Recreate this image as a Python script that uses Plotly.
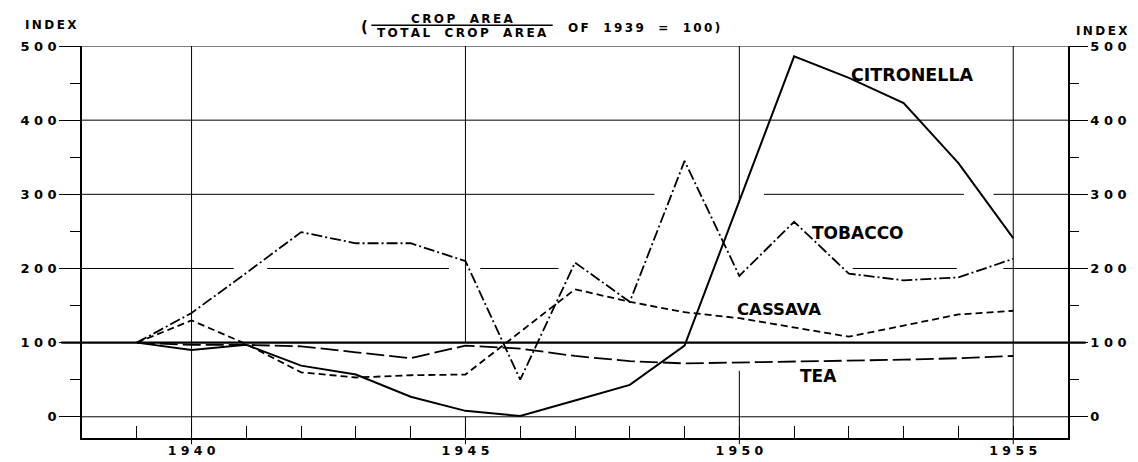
import plotly.graph_objects as go

years = list(range(1939, 1956))
citronella = [100, 90, 97, 69, 57, 27, 8, 1, 22, 43, 96, 290, 486, 457, 423, 342, 241]
tobacco = [100, 140, 194, 249, 234, 234, 210, 50, 208, 155, 345, 190, 263, 193, 184, 188, 213]
cassava = [100, 130, 98, 60, 53, 56, 57, 115, 172, 155, 141, 133, 121, 108, 123, 138, 143]
tea = [100, 97, 97, 95, 87, 79, 96, 92, 82, 75, 72, 73, 75, 76, 77, 79, 82]

x_labels = [1940, 1945, 1950, 1955]
y_ticks = [0, 100, 200, 300, 400, 500]

X_RANGE = [1938, 1956]
Y_RANGE = [-28.6, 500]

# hand-drawn (broken) grid lines of the original drawing
H_GRID = {
    0: [(1938, 1956)],
    200: [(1938, 1940.77), (1941.38, 1944.7), (1945.27, 1946.7), (1952.07, 1953.97), (1954.82, 1956)],
    300: [(1938, 1948.45), (1950.45, 1954.1), (1954.64, 1956)],
    400: [(1938, 1956)],
    500: [(1938, 1956)],
}
V_GRID = {
    1940: [(-28.6, 500)],
    1945: [(-28.6, 0), (100, 500)],
    1950: [(-28.6, 62), (288, 500)],
    1955: [(-28.6, 500)],
}

FONT = "DejaVu Sans"
TS = "\u2009"  # thin space


def spaced(s, sep=" "):
    return sep.join(list(s))


def letter(s):
    words = s.split(" ")
    return "\u2003\u2009".join(TS.join(list(w)) for w in words)


fig = go.Figure()

for val, segs in H_GRID.items():
    for a, b in segs:
        fig.add_shape(type="line", xref="x", yref="y", x0=a, x1=b, y0=val, y1=val,
                      line=dict(color="black", width=1), layer="below")
for yr, segs in V_GRID.items():
    for a, b in segs:
        fig.add_shape(type="line", xref="x", yref="y", x0=yr, x1=yr, y0=a, y1=b,
                      line=dict(color="black", width=1), layer="below")
    # short extension below the base line
    fig.add_shape(type="line", xref="x", yref="paper", x0=yr, x1=yr, y0=-0.016, y1=0,
                  line=dict(color="black", width=1), layer="below")

common = dict(mode="lines", hoverinfo="skip", showlegend=False)
fig.add_trace(go.Scatter(x=years, y=citronella, line=dict(color="black", width=2), **common))
fig.add_trace(go.Scatter(x=years, y=tobacco, line=dict(color="black", width=1.8, dash="11px,3px,2px,3px"), **common))
fig.add_trace(go.Scatter(x=years, y=cassava, line=dict(color="black", width=1.8, dash="7px,4px"), **common))
fig.add_trace(go.Scatter(x=years, y=tea, line=dict(color="black", width=1.8, dash="18px,5px"), **common))
# invisible trace to anchor right axis
fig.add_trace(go.Scatter(x=years, y=tea, yaxis="y2", line=dict(color="rgba(0,0,0,0)", width=0), **common))

series_labels = [
    ("CITRONELLA", 1953.16, 461, 17.5),
    ("TOBACCO", 1952.16, 248, 17),
    ("CASSAVA", 1950.73, 145, 16.5),
    ("TEA", 1951.44, 55, 17),
]
for txt, xx, yy, sz in series_labels:
    fig.add_annotation(x=xx, y=yy, text=txt, showarrow=False, xanchor="center", yanchor="middle",
                       font=dict(family=FONT, size=sz, color="black", weight="bold"))

tick_font = dict(family=FONT, size=13, color="black", weight="bold")

fig.update_layout(
    width=1138, height=462,
    margin=dict(l=65, r=78, t=38, b=28),
    paper_bgcolor="white", plot_bgcolor="white",
    xaxis=dict(
        range=X_RANGE, showline=True, linecolor="black", linewidth=1.5,
        tickmode="array", tickvals=x_labels, ticktext=[spaced(str(v)) for v in x_labels],
        ticks="inside", ticklen=12, tickcolor="black", tickwidth=1,
        showgrid=False, zeroline=False,
        tickfont=dict(family=FONT, size=12.5, color="black", weight="bold"),
        minor=dict(tickmode="linear", tick0=1938, dtick=1, ticks="inside", ticklen=12,
                   tickcolor="black", tickwidth=1, showgrid=False),
        fixedrange=True,
    ),
    yaxis=dict(
        range=Y_RANGE, showline=True, linecolor="black", linewidth=1.5,
        tickmode="array", tickvals=y_ticks, ticktext=[spaced(str(v)) for v in y_ticks],
        ticks="outside", ticklen=21, tickcolor="black", tickwidth=1.2,
        showgrid=False, zeroline=False,
        tickfont=tick_font,
        minor=dict(tickmode="linear", tick0=0, dtick=50, ticks="outside", ticklen=10,
                   tickcolor="black", tickwidth=1, showgrid=False),
        fixedrange=True,
    ),
    yaxis2=dict(
        range=Y_RANGE, overlaying="y", side="right", showline=True, linecolor="black", linewidth=1.5,
        tickmode="array", tickvals=y_ticks, ticktext=[spaced(str(v)) for v in y_ticks],
        ticks="outside", ticklen=18, tickcolor="black", tickwidth=1.2,
        showgrid=False, zeroline=False, tickfont=tick_font,
        minor=dict(tickmode="linear", tick0=0, dtick=50, ticks="outside", ticklen=9,
                   tickcolor="black", tickwidth=1, showgrid=False),
        fixedrange=True,
    ),
)

# thick 100 baseline
fig.add_shape(type="line", xref="paper", yref="y", x0=-0.021, x1=1.018, y0=100, y1=100,
              line=dict(color="black", width=2.2))

hdr = dict(family=FONT, size=12, color="black", weight="bold")
idx_font = dict(family=FONT, size=12, color="black", weight="bold")
fig.add_annotation(xref="paper", yref="paper", x=-0.0603, y=1.054, xanchor="left", yanchor="middle",
                   text=letter("INDEX"), showarrow=False, font=idx_font)
fig.add_annotation(xref="paper", yref="paper", x=1.034, y=1.038, xanchor="center", yanchor="middle",
                   text=letter("INDEX"), showarrow=False, font=idx_font)
fig.add_annotation(xref="paper", yref="paper", x=0.2864, y=1.048, xanchor="center", yanchor="middle",
                   text="(", showarrow=False, font=dict(family=FONT, size=15, color="black", weight="bold"))
fig.add_annotation(xref="paper", yref="paper", x=0.3859, y=1.070, xanchor="center", yanchor="middle",
                   text=letter("CROP AREA"), showarrow=False, font=hdr)
fig.add_annotation(xref="paper", yref="paper", x=0.3849, y=1.034, xanchor="center", yanchor="middle",
                   text=letter("TOTAL CROP AREA"), showarrow=False, font=hdr)
fig.add_annotation(xref="paper", yref="paper", x=0.4905, y=1.045, xanchor="left", yanchor="middle",
                   text=letter("OF 1939 = 100)"), showarrow=False, font=hdr)
fig.add_shape(type="line", xref="paper", yref="paper", x0=0.2935, x1=0.4774, y0=1.053, y1=1.053,
              line=dict(color="black", width=1.5))

fig.write_html("out.html")
